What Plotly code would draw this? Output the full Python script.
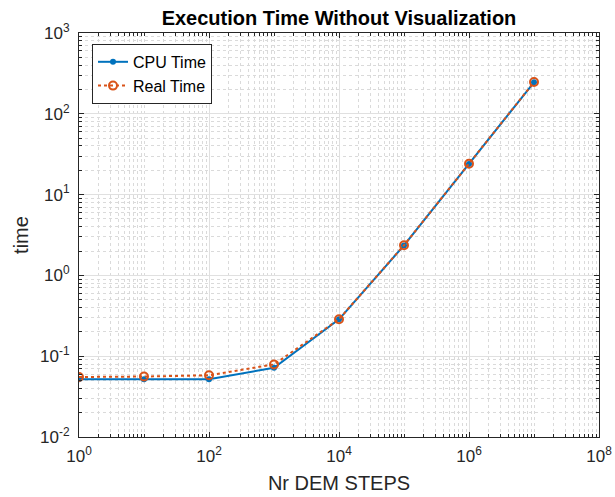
import plotly.graph_objects as go

# Number of DEM steps and measured execution times (seconds)
steps = [1, 10, 100, 1000, 1e4, 1e5, 1e6, 1e7]
cpu_time = [0.052, 0.052, 0.052, 0.072, 0.286, 2.35, 23.9, 245]
real_time = [0.0553, 0.056, 0.058, 0.079, 0.287, 2.36, 24.1, 247]

x_tick_exp = [0, 2, 4, 6, 8]
y_tick_exp = [-2, -1, 0, 1, 2, 3]

FONT = "Liberation Sans, Arial, Helvetica, sans-serif"
AXIS_COLOR = "#262626"


def minor_log_ticks(lo, hi, majors):
    """All 1..9 x 10^k positions between two decades, except the labelled ones."""
    vals = []
    for k in range(lo, hi):
        for m in range(1, 10):
            v = m * 10 ** k
            if m == 1 and k in majors:
                continue
            vals.append(v)
    return vals


fig = go.Figure()
fig.add_trace(go.Scatter(
    x=steps, y=cpu_time, name="CPU Time", mode="lines+markers",
    line=dict(color="#0072BD", width=2),
    marker=dict(symbol="circle", size=6, color="#0072BD"),
))
fig.add_trace(go.Scatter(
    x=steps, y=real_time, name="Real Time", mode="lines+markers",
    line=dict(color="#D95319", width=2, dash="dot"),
    marker=dict(symbol="circle-open", size=8, color="#D95319",
                line=dict(width=2, color="#D95319")),
))

axis_common = dict(
    type="log",
    automargin=False,
    showline=True, linecolor=AXIS_COLOR, linewidth=1, mirror="ticks",
    ticks="inside", ticklen=5, tickcolor=AXIS_COLOR,
    showgrid=True, gridcolor="#e0e0e0", gridwidth=1,
    zeroline=False,
    tickfont=dict(family=FONT, size=17, color=AXIS_COLOR),
)

fig.update_xaxes(
    **axis_common,
    range=[0, 8],
    tickvals=[10 ** e for e in x_tick_exp],
    ticktext=[f"10<sup>{e}</sup>" for e in x_tick_exp],
    minor=dict(tickmode="array", tickvals=minor_log_ticks(0, 8, x_tick_exp),
               ticks="inside", ticklen=3, tickcolor=AXIS_COLOR,
               showgrid=True, gridcolor="#dadada", griddash="dot", gridwidth=1),
    ticklabelstandoff=4,
    title=dict(text="Nr DEM STEPS", font=dict(family=FONT, size=20, color=AXIS_COLOR),
               standoff=10),
)
fig.update_yaxes(
    **axis_common,
    range=[-2, 3],
    tickvals=[10 ** e for e in y_tick_exp],
    ticktext=[f"10<sup>{e}</sup>" for e in y_tick_exp],
    minor=dict(tickmode="array", tickvals=minor_log_ticks(-2, 3, y_tick_exp),
               ticks="inside", ticklen=3, tickcolor=AXIS_COLOR,
               showgrid=True, gridcolor="#dadada", griddash="dot", gridwidth=1),
    ticklabelstandoff=5,
    title=dict(text="time", font=dict(family=FONT, size=20, color=AXIS_COLOR),
               standoff=6),
)

fig.update_layout(
    width=615, height=497,
    margin=dict(l=79, r=16, t=33, b=60),
    paper_bgcolor="white", plot_bgcolor="white",
    title=dict(text="<b>Execution Time Without Visualization</b>",
               font=dict(family=FONT, size=20, color="black"),
               x=0.5, xref="paper", xanchor="center",
               y=1 - 18 / 497, yanchor="middle"),
    legend=dict(x=0.025, y=0.973, xanchor="left", yanchor="top",
                bgcolor="white", bordercolor=AXIS_COLOR, borderwidth=1,
                font=dict(family=FONT, size=16, color="black"),
                tracegroupgap=0, itemwidth=30),
    showlegend=True,
)

fig.write_html("out.html")
